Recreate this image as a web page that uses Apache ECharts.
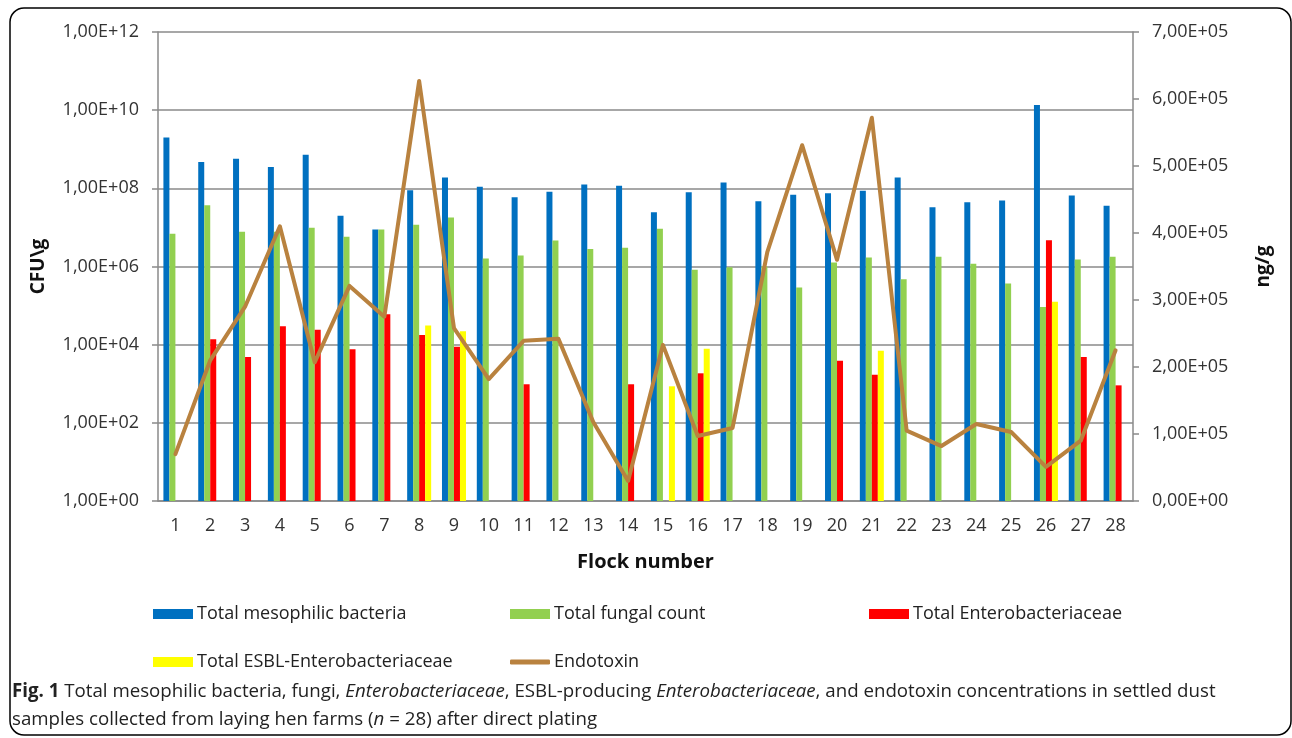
<!DOCTYPE html>
<html>
<head>
<meta charset="utf-8">
<script src="https://cdn.jsdelivr.net/npm/echarts@6/dist/echarts.min.js"></script>
<style>
html,body{margin:0;padding:0;background:#fff;}
#c{width:1292px;height:738px;}
</style>
</head>
<body>
<div id="c"></div>
<script>
const categories = ['1','2','3','4','5','6','7','8','9','10','11','12','13','14','15','16','17','18','19','20','21','22','23','24','25','26','27','28'];
const mesophilic = [2.0e9, 4.7e8, 5.7e8, 3.5e8, 7.2e8, 2.0e7, 8.9e6, 8.9e7, 1.9e8, 1.1e8, 5.9e7, 8.2e7, 1.26e8, 1.17e8, 2.45e7, 7.9e7, 1.4e8, 4.7e7, 6.9e7, 7.5e7, 8.7e7, 1.9e8, 3.3e7, 4.4e7, 4.9e7, 1.35e10, 6.6e7, 3.6e7];
const fungal = [6.9e6, 3.7e7, 7.8e6, 7.8e6, 9.8e6, 5.8e6, 8.9e6, 1.17e7, 1.8e7, 1.6e6, 1.9e6, 4.6e6, 2.8e6, 3.0e6, 9.3e6, 8.3e5, 9.5e5, 1.0e6, 2.9e5, 1.26e6, 1.7e6, 4.7e5, 1.78e6, 1.18e6, 3.7e5, 9.2e4, 1.5e6, 1.78e6];
const enterobacteriaceae = [null, 1.38e4, 4.8e3, 2.96e4, 2.4e4, 7.6e3, 6.0e4, 1.78e4, 8.9e3, null, 970, null, null, 970, null, 1.85e3, null, null, null, 3.9e3, 1.7e3, null, null, null, null, 4.7e6, 4.8e3, 910];
const esbl = [null, null, null, null, null, null, null, 3.1e4, 2.2e4, null, null, null, null, null, 860, 7.9e3, null, null, null, null, 7.0e3, null, null, null, null, 1.26e5, null, null];
const endotoxin = [7.0e4, 2.1e5, 2.9e5, 4.1e5, 2.07e5, 3.21e5, 2.75e5, 6.27e5, 2.58e5, 1.82e5, 2.39e5, 2.42e5, 1.18e5, 3.0e4, 2.33e5, 0.97e5, 1.09e5, 3.72e5, 5.31e5, 3.60e5, 5.72e5, 1.05e5, 0.82e5, 1.15e5, 1.03e5, 0.51e5, 0.90e5, 2.25e5];
const seriesNames = ['Total mesophilic bacteria', 'Total fungal count', 'Total Enterobacteriaceae', 'Total ESBL-Enterobacteriaceae', 'Endotoxin'];

const FONT = 'Open Sans';
const GRAY = '#8a8a8a';

function pad2(e){ return (e < 10 ? '0' : '') + e; }
function logLabel(v){
  const e = Math.round(Math.log10(v));
  return '1,00E+' + pad2(e);
}
function sciLabel(v){
  if (v === 0) return '0,00E+00';
  const e = Math.floor(Math.log10(v) + 1e-9);
  const m = v / Math.pow(10, e);
  return m.toFixed(2).replace('.', ',') + 'E+' + pad2(e);
}

const chart = echarts.init(document.getElementById('c'));
const barBase = { type: 'bar', barWidth: 6, barGap: '0%', yAxisIndex: 0 };
const option = {
  animation: false,
  textStyle: { fontFamily: FONT },
  grid: { left: 158, right: 159, top: 32, bottom: 237 },
  legend: [
    { data: [seriesNames[0]], left: 153, top: 605 },
    { data: [seriesNames[1]], left: 510, top: 605 },
    { data: [seriesNames[2]], left: 869, top: 605 },
    { data: [seriesNames[3]], left: 153, top: 653 },
    { data: [{ name: seriesNames[4], icon: 'roundRect' }], left: 510, top: 653, itemHeight: 5 }
  ].map(l => Object.assign({
    itemWidth: 40, itemHeight: 10, icon: 'rect', padding: 0, itemGap: 0,
    textStyle: { fontFamily: FONT, fontSize: 18, color: '#222', padding: [0, 0, 0, -1] },
    selectedMode: false
  }, l)),
  xAxis: {
    type: 'category', data: categories,
    axisLine: { lineStyle: { color: GRAY, width: 1.5 } },
    axisTick: { show: false },
    axisLabel: { fontFamily: FONT, fontSize: 18, color: '#333', margin: 16 },
    name: 'Flock number', nameLocation: 'middle', nameGap: 51,
    nameTextStyle: { fontFamily: FONT, fontWeight: 'bold', fontSize: 20, color: '#111' }
  },
  yAxis: [
    {
      type: 'log', logBase: 100, min: 1, max: 1e12, interval: 1,
      axisLine: { show: true, lineStyle: { color: GRAY, width: 1.5 } },
      axisTick: { show: true, length: 6, lineStyle: { color: GRAY, width: 1.5 } },
      splitLine: { show: true, lineStyle: { color: GRAY, width: 1.5 } },
      minorTick: { show: false }, minorSplitLine: { show: false },
      axisLabel: { fontFamily: FONT, fontSize: 18, color: '#333', margin: 19, formatter: logLabel },
      name: 'CFU\\g', nameLocation: 'middle', nameGap: 110, nameRotate: 90,
      nameTextStyle: { fontFamily: FONT, fontWeight: 'bold', fontSize: 19, color: '#111' }
    },
    {
      type: 'value', min: 0, max: 7e5, interval: 1e5, position: 'right',
      axisLine: { show: true, lineStyle: { color: GRAY, width: 1.5 } },
      axisTick: { show: true, length: 6, lineStyle: { color: GRAY, width: 1.5 } },
      splitLine: { show: false },
      axisLabel: { fontFamily: FONT, fontSize: 18, color: '#333', margin: 19, formatter: sciLabel },
      name: 'ng/g', nameLocation: 'middle', nameGap: 121, nameRotate: 90,
      nameTextStyle: { fontFamily: FONT, fontWeight: 'bold', fontSize: 19, color: '#111' }
    }
  ],
  series: [
    Object.assign({ name: seriesNames[0], data: mesophilic, itemStyle: { color: '#0070C0' } }, barBase),
    Object.assign({ name: seriesNames[1], data: fungal, itemStyle: { color: '#92D050' } }, barBase),
    Object.assign({ name: seriesNames[2], data: enterobacteriaceae, itemStyle: { color: '#FF0000' } }, barBase),
    Object.assign({ name: seriesNames[3], data: esbl, itemStyle: { color: '#FFFF00' } }, barBase),
    {
      name: seriesNames[4], type: 'line', yAxisIndex: 1, data: endotoxin,
      showSymbol: false, symbol: 'none', z: 5,
      lineStyle: { color: '#B9823F', width: 4, cap: 'round', join: 'round' },
      itemStyle: { color: '#B9823F' }
    }
  ],
  graphic: [
    {
      type: 'rect', silent: true,
      shape: { x: 10, y: 8, width: 1281, height: 727, r: 14 },
      style: { fill: null, stroke: '#000', lineWidth: 1.5 }
    },
    {
      type: 'text', left: 12, top: 678, silent: true,
      style: {
        text: '{b|Fig. 1} Total mesophilic bacteria, fungi, {i|Enterobacteriaceae}, ESBL-producing {i|Enterobacteriaceae}, and endotoxin concentrations in settled dust\nsamples collected from laying hen farms ({i|n} = 28) after direct plating',
        fontFamily: FONT, fontSize: 18.7, lineHeight: 28, fill: '#222',
        rich: {
          b: { fontFamily: FONT, fontSize: 18.7, fontWeight: 'bold', fill: '#222', lineHeight: 28 },
          i: { fontFamily: FONT, fontSize: 18.7, fontStyle: 'italic', fill: '#222', lineHeight: 28 }
        }
      }
    }
  ]
};
chart.setOption(option);
</script>
</body>
</html>
